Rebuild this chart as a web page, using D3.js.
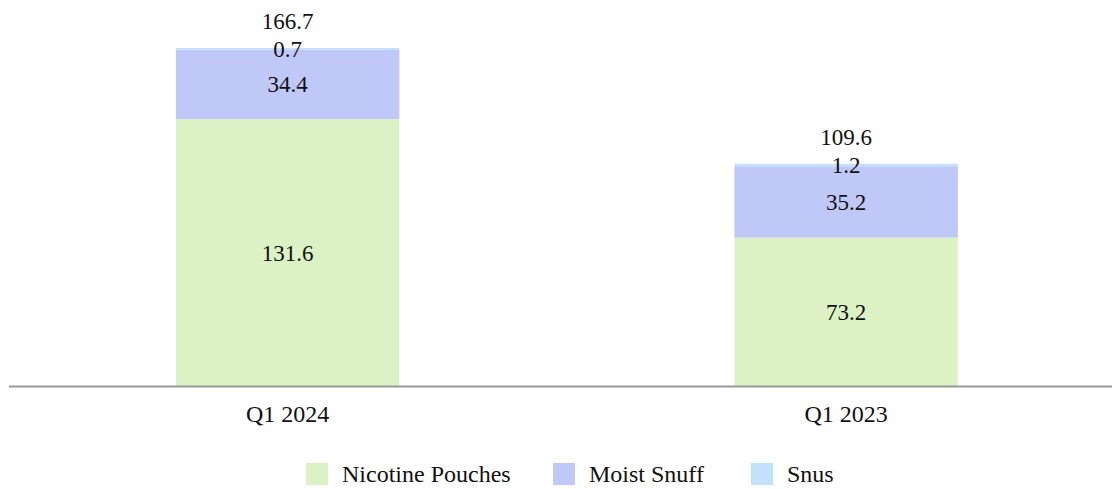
<!DOCTYPE html>
<html>
<head>
<meta charset="utf-8">
<script src="https://cdn.jsdelivr.net/npm/d3@7"></script>
<style>
  html, body { margin: 0; padding: 0; background: #fff; }
  svg text { font-family: "Liberation Serif", "Times New Roman", Times, serif; }
</style>
</head>
<body>
<svg id="chart" width="1112" height="489"></svg>
<script>
// Shipment volumes by product category
const categories = ["Q1 2024", "Q1 2023"];
const seriesNames = ["Nicotine Pouches", "Moist Snuff", "Snus"];
const nicotinePouches = [131.6, 73.2];
const moistSnuff = [34.4, 35.2];
const snus = [0.7, 1.2];
const totals = [166.7, 109.6];

const colors = ["#dcf2c4", "#c0c8f8", "#c2e2fc"];
const serif = '"Liberation Serif", "Times New Roman", Times, serif';

const svg = d3.select("#chart");

const baseY = 386;
const y = d3.scaleLinear().domain([0, 166.7]).range([baseY, 48]);
const x = d3.scaleBand().domain(categories).range([8.4, 1125.4]).paddingInner(0.6).paddingOuter(0.3);

const rows = categories.map((c, i) => ({
  cat: c,
  "Nicotine Pouches": nicotinePouches[i],
  "Moist Snuff": moistSnuff[i],
  "Snus": snus[i],
  total: totals[i]
}));

const stacked = d3.stack().keys(seriesNames)(rows);

const layers = svg.append("g").selectAll("g")
  .data(stacked)
  .join("g")
  .attr("fill", (d, i) => colors[i]);

layers.selectAll("rect")
  .data(d => d)
  .join("rect")
  .attr("x", d => x(d.data.cat))
  .attr("width", x.bandwidth())
  .attr("y", d => y(d[1]))
  .attr("height", d => y(d[0]) - y(d[1]));

// segment value labels
const labels = svg.append("g")
  .attr("font-family", serif)
  .attr("font-size", 23)
  .attr("fill", "#111")
  .attr("text-anchor", "middle");

stacked.forEach(layer => {
  layer.forEach(d => {
    labels.append("text")
      .attr("x", x(d.data.cat) + x.bandwidth() / 2)
      .attr("y", (y(d[0]) + y(d[1])) / 2)
      .attr("dy", "0.35em")
      .text(d3.format(".1f")(d[1] - d[0]));
  });
});

// totals above bars
rows.forEach(r => {
  labels.append("text")
    .attr("x", x(r.cat) + x.bandwidth() / 2)
    .attr("y", y(r.total) - 27)
    .attr("dy", "0.35em")
    .text(d3.format(".1f")(r.total));
});

// axis
const axis = d3.axisBottom(x).tickSize(0).tickPadding(19);
const gx = svg.append("g").attr("transform", `translate(0,${baseY})`).call(axis)
  .attr("font-family", serif);
gx.select(".domain").attr("stroke", "#999").attr("stroke-width", 2);
gx.selectAll("text")
  .attr("font-family", serif)
  .attr("font-size", 24)
  .attr("fill", "#111");

// legend
const legendItems = [
  { name: seriesNames[0], x: 306 },
  { name: seriesNames[1], x: 553 },
  { name: seriesNames[2], x: 751 }
];
const legend = svg.append("g").attr("font-family", serif);
legendItems.forEach((item, i) => {
  legend.append("rect")
    .attr("x", item.x).attr("y", 463)
    .attr("width", 22).attr("height", 22)
    .attr("fill", colors[i]);
  legend.append("text")
    .attr("x", item.x + 36).attr("y", 474)
    .attr("dy", "0.35em")
    .attr("font-size", 24)
    .attr("fill", "#111")
    .text(item.name);
});
</script>
</body>
</html>
